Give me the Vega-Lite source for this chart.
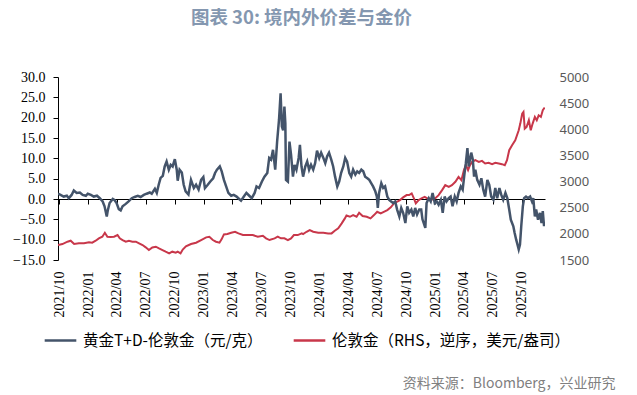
{
  "$schema": "https://vega.github.io/schema/vega-lite/v6.json",
  "width": 487,
  "height": 183,
  "autosize": {"type": "none"},
  "padding": {"left": 58, "top": 77, "right": 92, "bottom": 135},
  "background": "white",
  "view": {"stroke": null},
  "title": {
    "text": "图表 30: 境内外价差与金价",
    "font": "Noto Sans CJK SC",
    "fontSize": 18.5,
    "fontWeight": "bold",
    "color": "#8497B0",
    "anchor": "middle",
    "offset": 43
  },
  "datasets": {
    "spread": [
      {"d":"2021-09-27","v":1.3},{"d":"2021-10-05","v":1.0},{"d":"2021-10-15","v":0.6},{"d":"2021-10-25","v":0.8},{"d":"2021-10-31","v":0.2},
      {"d":"2021-11-09","v":1.0},{"d":"2021-11-16","v":2.1},{"d":"2021-11-25","v":1.5},{"d":"2021-12-05","v":1.6},{"d":"2021-12-14","v":1.0},
      {"d":"2021-12-24","v":0.8},{"d":"2021-12-30","v":1.3},{"d":"2022-01-09","v":1.0},{"d":"2022-01-18","v":0.6},{"d":"2022-01-28","v":0.8},
      {"d":"2022-02-06","v":0.2},{"d":"2022-02-15","v":-0.6},{"d":"2022-02-21","v":-1.8},{"d":"2022-02-28","v":-4.3},{"d":"2022-03-03","v":-2.9},
      {"d":"2022-03-09","v":-1.0},{"d":"2022-03-19","v":0.0},{"d":"2022-03-25","v":-0.3},{"d":"2022-03-31","v":-1.0},{"d":"2022-04-07","v":-2.5},
      {"d":"2022-04-13","v":-2.8},{"d":"2022-04-19","v":-1.8},{"d":"2022-04-29","v":-1.2},{"d":"2022-05-08","v":-0.6},{"d":"2022-05-18","v":0.2},
      {"d":"2022-05-27","v":0.5},{"d":"2022-06-06","v":0.8},{"d":"2022-06-15","v":0.5},{"d":"2022-06-25","v":1.0},{"d":"2022-07-04","v":1.3},
      {"d":"2022-07-14","v":1.6},{"d":"2022-07-20","v":1.3},{"d":"2022-07-30","v":2.5},{"d":"2022-08-05","v":1.5},{"d":"2022-08-11","v":3.5},
      {"d":"2022-08-17","v":5.2},{"d":"2022-08-24","v":5.7},{"d":"2022-08-30","v":8.0},{"d":"2022-09-05","v":9.2},{"d":"2022-09-12","v":7.2},
      {"d":"2022-09-18","v":8.4},{"d":"2022-09-24","v":8.0},{"d":"2022-10-01","v":9.8},{"d":"2022-10-07","v":7.2},{"d":"2022-10-10","v":4.5},
      {"d":"2022-10-16","v":7.2},{"d":"2022-10-23","v":6.5},{"d":"2022-10-29","v":3.5},{"d":"2022-11-04","v":1.9},{"d":"2022-11-13","v":1.1},
      {"d":"2022-11-21","v":4.7},{"d":"2022-11-30","v":2.7},{"d":"2022-12-07","v":3.5},{"d":"2022-12-15","v":2.3},{"d":"2022-12-23","v":4.7},
      {"d":"2022-12-30","v":5.4},{"d":"2023-01-04","v":2.7},{"d":"2023-01-13","v":3.5},{"d":"2023-01-21","v":4.3},{"d":"2023-01-30","v":5.1},
      {"d":"2023-02-05","v":6.4},{"d":"2023-02-11","v":7.2},{"d":"2023-02-20","v":8.0},{"d":"2023-02-26","v":6.8},{"d":"2023-03-05","v":4.7},
      {"d":"2023-03-12","v":3.1},{"d":"2023-03-19","v":1.5},{"d":"2023-03-28","v":0.8},{"d":"2023-04-05","v":1.0},{"d":"2023-04-14","v":0.6},
      {"d":"2023-04-22","v":0.0},{"d":"2023-04-28","v":-0.4},{"d":"2023-05-07","v":0.6},{"d":"2023-05-15","v":1.5},{"d":"2023-05-24","v":0.8},
      {"d":"2023-06-01","v":0.2},{"d":"2023-06-10","v":1.5},{"d":"2023-06-16","v":3.1},{"d":"2023-06-24","v":2.7},{"d":"2023-07-03","v":4.3},
      {"d":"2023-07-11","v":5.5},{"d":"2023-07-20","v":6.4},{"d":"2023-07-26","v":10.1},{"d":"2023-08-01","v":9.7},{"d":"2023-08-07","v":12.1},
      {"d":"2023-08-14","v":7.2},{"d":"2023-08-20","v":14.1},{"d":"2023-08-26","v":19.5},{"d":"2023-08-31","v":26.0},{"d":"2023-09-04","v":17.8},
      {"d":"2023-09-08","v":16.9},{"d":"2023-09-12","v":22.7},{"d":"2023-09-15","v":18.6},{"d":"2023-09-17","v":4.7},{"d":"2023-09-23","v":4.3},
      {"d":"2023-09-28","v":14.1},{"d":"2023-10-03","v":10.9},{"d":"2023-10-09","v":5.5},{"d":"2023-10-14","v":8.4},{"d":"2023-10-20","v":7.2},
      {"d":"2023-10-27","v":10.1},{"d":"2023-10-31","v":13.3},{"d":"2023-11-05","v":8.0},{"d":"2023-11-10","v":5.5},{"d":"2023-11-17","v":8.0},
      {"d":"2023-11-23","v":9.2},{"d":"2023-11-29","v":7.2},{"d":"2023-12-05","v":8.4},{"d":"2023-12-12","v":7.2},{"d":"2023-12-18","v":8.8},
      {"d":"2023-12-24","v":11.9},{"d":"2023-12-31","v":10.1},{"d":"2024-01-06","v":11.4},{"d":"2024-01-13","v":10.1},{"d":"2024-01-19","v":8.8},
      {"d":"2024-01-25","v":10.5},{"d":"2024-01-31","v":11.4},{"d":"2024-02-07","v":9.7},{"d":"2024-02-13","v":8.0},{"d":"2024-02-19","v":5.5},
      {"d":"2024-02-26","v":3.1},{"d":"2024-03-03","v":4.3},{"d":"2024-03-09","v":6.4},{"d":"2024-03-16","v":8.0},{"d":"2024-03-22","v":10.1},
      {"d":"2024-03-28","v":9.2},{"d":"2024-04-04","v":6.4},{"d":"2024-04-10","v":5.5},{"d":"2024-04-16","v":7.2},{"d":"2024-04-23","v":6.0},
      {"d":"2024-04-29","v":6.8},{"d":"2024-05-05","v":6.4},{"d":"2024-05-12","v":7.2},{"d":"2024-05-18","v":6.8},{"d":"2024-05-24","v":5.5},
      {"d":"2024-05-31","v":5.1},{"d":"2024-06-06","v":4.7},{"d":"2024-06-12","v":3.9},{"d":"2024-06-18","v":3.1},{"d":"2024-06-25","v":1.9},
      {"d":"2024-06-30","v":0.6},{"d":"2024-07-03","v":-2.2},{"d":"2024-07-07","v":1.5},{"d":"2024-07-14","v":3.9},{"d":"2024-07-20","v":2.7},
      {"d":"2024-07-26","v":3.1},{"d":"2024-08-02","v":0.6},{"d":"2024-08-08","v":-0.2},{"d":"2024-08-14","v":-0.6},{"d":"2024-08-21","v":-1.0},
      {"d":"2024-08-27","v":-0.6},{"d":"2024-09-02","v":-2.6},{"d":"2024-09-09","v":-4.3},{"d":"2024-09-15","v":-2.2},{"d":"2024-09-21","v":-3.4},
      {"d":"2024-09-28","v":-5.9},{"d":"2024-10-04","v":-1.8},{"d":"2024-10-10","v":-3.4},{"d":"2024-10-17","v":-2.6},{"d":"2024-10-23","v":-4.3},
      {"d":"2024-10-29","v":-2.2},{"d":"2024-11-04","v":-3.8},{"d":"2024-11-11","v":-2.6},{"d":"2024-11-17","v":-2.6},{"d":"2024-11-21","v":-5.0},
      {"d":"2024-11-30","v":-7.1},{"d":"2024-12-04","v":-1.0},{"d":"2024-12-11","v":0.2},{"d":"2024-12-17","v":-0.6},{"d":"2024-12-23","v":1.5},
      {"d":"2024-12-30","v":-1.0},{"d":"2025-01-05","v":-0.6},{"d":"2025-01-11","v":-1.4},{"d":"2025-01-18","v":-0.2},{"d":"2025-01-24","v":-3.4},
      {"d":"2025-01-30","v":0.6},{"d":"2025-02-05","v":-0.6},{"d":"2025-02-12","v":0.2},{"d":"2025-02-18","v":0.6},{"d":"2025-02-24","v":-1.8},
      {"d":"2025-03-03","v":0.6},{"d":"2025-03-09","v":-0.6},{"d":"2025-03-15","v":1.5},{"d":"2025-03-22","v":3.1},{"d":"2025-03-28","v":2.3},
      {"d":"2025-04-03","v":6.4},{"d":"2025-04-07","v":8.8},{"d":"2025-04-12","v":12.5},{"d":"2025-04-16","v":8.0},{"d":"2025-04-20","v":9.7},
      {"d":"2025-04-24","v":11.4},{"d":"2025-04-29","v":9.7},{"d":"2025-05-03","v":5.5},{"d":"2025-05-07","v":7.2},{"d":"2025-05-13","v":4.7},
      {"d":"2025-05-20","v":3.5},{"d":"2025-05-26","v":5.1},{"d":"2025-06-01","v":2.3},{"d":"2025-06-07","v":0.6},{"d":"2025-06-14","v":4.7},
      {"d":"2025-06-20","v":3.5},{"d":"2025-06-26","v":0.6},{"d":"2025-07-03","v":-0.2},{"d":"2025-07-09","v":2.7},{"d":"2025-07-15","v":0.2},
      {"d":"2025-07-22","v":2.7},{"d":"2025-07-28","v":1.0},{"d":"2025-08-03","v":-0.2},{"d":"2025-08-10","v":1.5},{"d":"2025-08-16","v":0.2},
      {"d":"2025-08-22","v":-2.6},{"d":"2025-08-27","v":-5.1},{"d":"2025-08-31","v":-5.9},{"d":"2025-09-04","v":-6.7},{"d":"2025-09-08","v":-8.3},
      {"d":"2025-09-13","v":-10.0},{"d":"2025-09-17","v":-11.2},{"d":"2025-09-21","v":-12.4},{"d":"2025-09-25","v":-11.2},{"d":"2025-09-29","v":-6.7},
      {"d":"2025-10-04","v":-1.8},{"d":"2025-10-08","v":0.2},{"d":"2025-10-14","v":0.6},{"d":"2025-10-20","v":0.2},{"d":"2025-10-27","v":0.6},
      {"d":"2025-11-02","v":-0.6},{"d":"2025-11-06","v":0.2},{"d":"2025-11-11","v":-4.3},{"d":"2025-11-15","v":-2.6},{"d":"2025-11-21","v":-5.1},
      {"d":"2025-11-27","v":-3.4},{"d":"2025-12-02","v":-5.9},{"d":"2025-12-06","v":-3.0},{"d":"2025-12-10","v":-6.7}
    ],
    "gold": [
      {"d":"2021-09-27","v":1786},{"d":"2021-10-11","v":1805},{"d":"2021-10-27","v":1850},{"d":"2021-11-06","v":1869},{"d":"2021-11-17","v":1805},
      {"d":"2021-12-02","v":1819},{"d":"2021-12-18","v":1819},{"d":"2022-01-03","v":1838},{"d":"2022-01-13","v":1831},{"d":"2022-01-24","v":1869},
      {"d":"2022-02-03","v":1914},{"d":"2022-02-14","v":1945},{"d":"2022-02-22","v":2021},{"d":"2022-03-02","v":1945},{"d":"2022-03-12","v":1939},
      {"d":"2022-03-23","v":1945},{"d":"2022-04-03","v":1977},{"d":"2022-04-10","v":1914},{"d":"2022-04-19","v":1882},{"d":"2022-04-29","v":1850},
      {"d":"2022-05-09","v":1869},{"d":"2022-05-20","v":1850},{"d":"2022-05-31","v":1850},{"d":"2022-06-10","v":1819},{"d":"2022-06-21","v":1786},
      {"d":"2022-07-01","v":1742},{"d":"2022-07-11","v":1690},{"d":"2022-07-22","v":1740},{"d":"2022-08-02","v":1754},{"d":"2022-08-12","v":1722},
      {"d":"2022-08-23","v":1690},{"d":"2022-09-02","v":1659},{"d":"2022-09-13","v":1627},{"d":"2022-09-23","v":1659},{"d":"2022-10-04","v":1640},
      {"d":"2022-10-10","v":1659},{"d":"2022-10-19","v":1627},{"d":"2022-10-26","v":1700},{"d":"2022-11-05","v":1760},{"d":"2022-11-21","v":1805},
      {"d":"2022-12-07","v":1831},{"d":"2022-12-23","v":1882},{"d":"2023-01-08","v":1933},{"d":"2023-01-18","v":1945},{"d":"2023-01-29","v":1882},
      {"d":"2023-02-08","v":1850},{"d":"2023-02-19","v":1831},{"d":"2023-02-26","v":1900},{"d":"2023-03-05","v":1990},{"d":"2023-03-16","v":1996},
      {"d":"2023-03-28","v":2021},{"d":"2023-04-09","v":2040},{"d":"2023-04-20","v":2009},{"d":"2023-05-04","v":1977},{"d":"2023-05-20","v":1977},
      {"d":"2023-06-04","v":1977},{"d":"2023-06-20","v":1945},{"d":"2023-07-06","v":1964},{"d":"2023-07-16","v":1914},{"d":"2023-07-27","v":1882},
      {"d":"2023-08-12","v":1914},{"d":"2023-08-22","v":1945},{"d":"2023-09-01","v":1914},{"d":"2023-09-12","v":1914},{"d":"2023-09-23","v":1882},
      {"d":"2023-10-03","v":1914},{"d":"2023-10-12","v":1977},{"d":"2023-10-24","v":1977},{"d":"2023-11-06","v":2009},{"d":"2023-11-10","v":1996},
      {"d":"2023-11-21","v":2040},{"d":"2023-12-01","v":2073},{"d":"2023-12-12","v":2040},{"d":"2023-12-28","v":2021},{"d":"2024-01-13","v":2021},
      {"d":"2024-01-28","v":2009},{"d":"2024-02-08","v":2009},{"d":"2024-02-18","v":2060},{"d":"2024-02-29","v":2105},{"d":"2024-03-11","v":2200},
      {"d":"2024-03-21","v":2296},{"d":"2024-03-26","v":2350},{"d":"2024-04-06","v":2327},{"d":"2024-04-16","v":2359},{"d":"2024-04-27","v":2327},
      {"d":"2024-05-05","v":2403},{"d":"2024-05-16","v":2340},{"d":"2024-05-29","v":2327},{"d":"2024-06-10","v":2296},{"d":"2024-06-21","v":2359},
      {"d":"2024-07-01","v":2422},{"d":"2024-07-12","v":2391},{"d":"2024-07-22","v":2422},{"d":"2024-08-02","v":2454},{"d":"2024-08-13","v":2506},
      {"d":"2024-08-23","v":2582},{"d":"2024-09-01","v":2614},{"d":"2024-09-11","v":2645},{"d":"2024-09-21","v":2697},{"d":"2024-10-02","v":2741},
      {"d":"2024-10-10","v":2741},{"d":"2024-10-18","v":2773},{"d":"2024-10-25","v":2678},{"d":"2024-10-31","v":2582},{"d":"2024-11-09","v":2645},
      {"d":"2024-11-18","v":2678},{"d":"2024-11-28","v":2709},{"d":"2024-12-16","v":2645},{"d":"2024-12-31","v":2678},{"d":"2025-01-11","v":2741},
      {"d":"2025-01-22","v":2836},{"d":"2025-02-01","v":2932},{"d":"2025-02-12","v":2900},{"d":"2025-02-22","v":2932},{"d":"2025-03-05","v":2995},
      {"d":"2025-03-15","v":3090},{"d":"2025-03-24","v":3027},{"d":"2025-04-01","v":3218},{"d":"2025-04-07","v":3314},{"d":"2025-04-14","v":3218},
      {"d":"2025-04-20","v":3314},{"d":"2025-04-27","v":3377},{"d":"2025-05-07","v":3409},{"d":"2025-05-18","v":3377},{"d":"2025-05-28","v":3396},
      {"d":"2025-06-07","v":3345},{"d":"2025-06-18","v":3358},{"d":"2025-06-29","v":3333},{"d":"2025-07-09","v":3358},{"d":"2025-07-20","v":3345},
      {"d":"2025-07-30","v":3333},{"d":"2025-08-08","v":3314},{"d":"2025-08-15","v":3409},{"d":"2025-08-22","v":3600},{"d":"2025-08-31","v":3695},
      {"d":"2025-09-10","v":3791},{"d":"2025-09-21","v":3982},{"d":"2025-09-26","v":4109},{"d":"2025-10-02","v":4300},{"d":"2025-10-06","v":4331},
      {"d":"2025-10-10","v":4014},{"d":"2025-10-16","v":4046},{"d":"2025-10-23","v":4173},{"d":"2025-10-29","v":3982},{"d":"2025-11-04","v":4109},
      {"d":"2025-11-11","v":4236},{"d":"2025-11-17","v":4173},{"d":"2025-11-23","v":4268},{"d":"2025-11-30","v":4236},{"d":"2025-12-06","v":4364},
      {"d":"2025-12-12","v":4415}
    ]
  },
  "layer": [
    {
      "data": {"name": "gold"},
      "mark": {"type": "line", "strokeWidth": 2, "clip": true},
      "encoding": {
        "x": {
          "field": "d", "type": "temporal",
          "scale": {"type": "utc", "domain": [{"year": 2021, "month": 9, "date": 27, "utc": true}, {"year": 2025, "month": 12, "date": 13, "utc": true}]},
          "axis": {
            "orient": "bottom",
            "values": [
              {"year":2021,"month":10,"date":1,"utc":true},{"year":2022,"month":1,"date":1,"utc":true},{"year":2022,"month":4,"date":1,"utc":true},
              {"year":2022,"month":7,"date":1,"utc":true},{"year":2022,"month":10,"date":1,"utc":true},{"year":2023,"month":1,"date":1,"utc":true},
              {"year":2023,"month":4,"date":1,"utc":true},{"year":2023,"month":7,"date":1,"utc":true},{"year":2023,"month":10,"date":1,"utc":true},
              {"year":2024,"month":1,"date":1,"utc":true},{"year":2024,"month":4,"date":1,"utc":true},{"year":2024,"month":7,"date":1,"utc":true},
              {"year":2024,"month":10,"date":1,"utc":true},{"year":2025,"month":1,"date":1,"utc":true},{"year":2025,"month":4,"date":1,"utc":true},
              {"year":2025,"month":7,"date":1,"utc":true},{"year":2025,"month":10,"date":1,"utc":true}
            ],
            "format": "%Y/%m",
            "labelAngle": 270,
            "labelAlign": "right",
            "labelBaseline": "middle",
            "labelFont": "Liberation Serif",
            "labelFontSize": 14,
            "labelColor": "#000000",
            "labelPadding": 11,
            "labelOverlap": false,
            "labelFlush": false,
            "domain": false,
            "ticks": false,
            "grid": false,
            "title": "资料来源：Bloomberg，兴业研究",
            "titleFont": "Noto Sans CJK SC",
            "titleFontSize": 14,
            "titleFontWeight": "normal",
            "titleColor": "#808080",
            "titleAlign": "right",
            "titleAnchor": null,
            "titleBaseline": "middle",
            "titleX": 557,
            "titleY": 123
          }
        },
        "y": {
          "field": "v", "type": "quantitative",
          "scale": {"domain": [1500, 5000], "nice": false, "zero": false},
          "axis": {
            "orient": "right",
            "values": [1500, 2000, 2500, 3000, 3500, 4000, 4500, 5000],
            "format": "d",
            "labelFont": "Noto Sans",
            "labelFontSize": 13,
            "labelColor": "#595959",
            "labelPadding": 14,
            "domain": false,
            "ticks": false,
            "grid": false,
            "title": null
          }
        },
        "color": {
          "datum": "伦敦金（RHS，逆序，美元/盎司）",
          "scale": {"domain": ["黄金T+D-伦敦金（元/克）", "伦敦金（RHS，逆序，美元/盎司）"], "range": ["#44546A", "#C8374A"]},
          "legend": {
            "orient": "none", "legendX": -15, "legendY": 246, "direction": "horizontal",
            "title": null, "symbolType": "stroke", "symbolStrokeWidth": 2.5, "symbolSize": 1000,
            "labelFont": "Noto Sans CJK SC", "labelFontSize": 15.5, "labelColor": "#000000",
            "labelOffset": 5, "columnPadding": 25, "labelLimit": 400
          }
        }
      }
    },
    {
      "data": {"name": "spread"},
      "mark": {"type": "line", "strokeWidth": 2.5, "clip": true},
      "encoding": {
        "x": {
          "field": "d", "type": "temporal",
          "scale": {"type": "utc", "domain": [{"year": 2021, "month": 9, "date": 27, "utc": true}, {"year": 2025, "month": 12, "date": 13, "utc": true}]},
          "axis": {
            "orient": "bottom",
            "offset": -61,
            "values": [
              {"year":2021,"month":10,"date":1,"utc":true},{"year":2022,"month":1,"date":1,"utc":true},{"year":2022,"month":4,"date":1,"utc":true},
              {"year":2022,"month":7,"date":1,"utc":true},{"year":2022,"month":10,"date":1,"utc":true},{"year":2023,"month":1,"date":1,"utc":true},
              {"year":2023,"month":4,"date":1,"utc":true},{"year":2023,"month":7,"date":1,"utc":true},{"year":2023,"month":10,"date":1,"utc":true},
              {"year":2024,"month":1,"date":1,"utc":true},{"year":2024,"month":4,"date":1,"utc":true},{"year":2024,"month":7,"date":1,"utc":true},
              {"year":2024,"month":10,"date":1,"utc":true},{"year":2025,"month":1,"date":1,"utc":true},{"year":2025,"month":4,"date":1,"utc":true},
              {"year":2025,"month":7,"date":1,"utc":true},{"year":2025,"month":10,"date":1,"utc":true}
            ],
            "labels": false,
            "domain": true,
            "domainColor": "#000000",
            "domainWidth": 1,
            "ticks": true,
            "tickColor": "#000000",
            "tickSize": 5,
            "grid": false,
            "title": null
          }
        },
        "y": {
          "field": "v", "type": "quantitative",
          "scale": {"domain": [-15, 30], "nice": false, "zero": false},
          "axis": {
            "orient": "left",
            "values": [-15, -10, -5, 0, 5, 10, 15, 20, 25, 30],
            "format": ".1f",
            "labelFont": "Liberation Serif",
            "labelFontSize": 14,
            "labelColor": "#000000",
            "labelPadding": 8,
            "domain": true,
            "domainColor": "#000000",
            "ticks": true,
            "tickColor": "#000000",
            "tickSize": 5,
            "grid": false,
            "title": null
          }
        },
        "color": {
          "datum": "黄金T+D-伦敦金（元/克）",
          "scale": {"domain": ["黄金T+D-伦敦金（元/克）", "伦敦金（RHS，逆序，美元/盎司）"], "range": ["#44546A", "#C8374A"]},
          "legend": {
            "orient": "none", "legendX": -15, "legendY": 246, "direction": "horizontal",
            "title": null, "symbolType": "stroke", "symbolStrokeWidth": 2.5, "symbolSize": 1000,
            "labelFont": "Noto Sans CJK SC", "labelFontSize": 15.5, "labelColor": "#000000",
            "labelOffset": 5, "columnPadding": 25, "labelLimit": 400
          }
        }
      }
    }
  ],
  "resolve": {"scale": {"y": "independent", "x": "independent"}, "axis": {"x": "independent", "y": "independent"}}
}
